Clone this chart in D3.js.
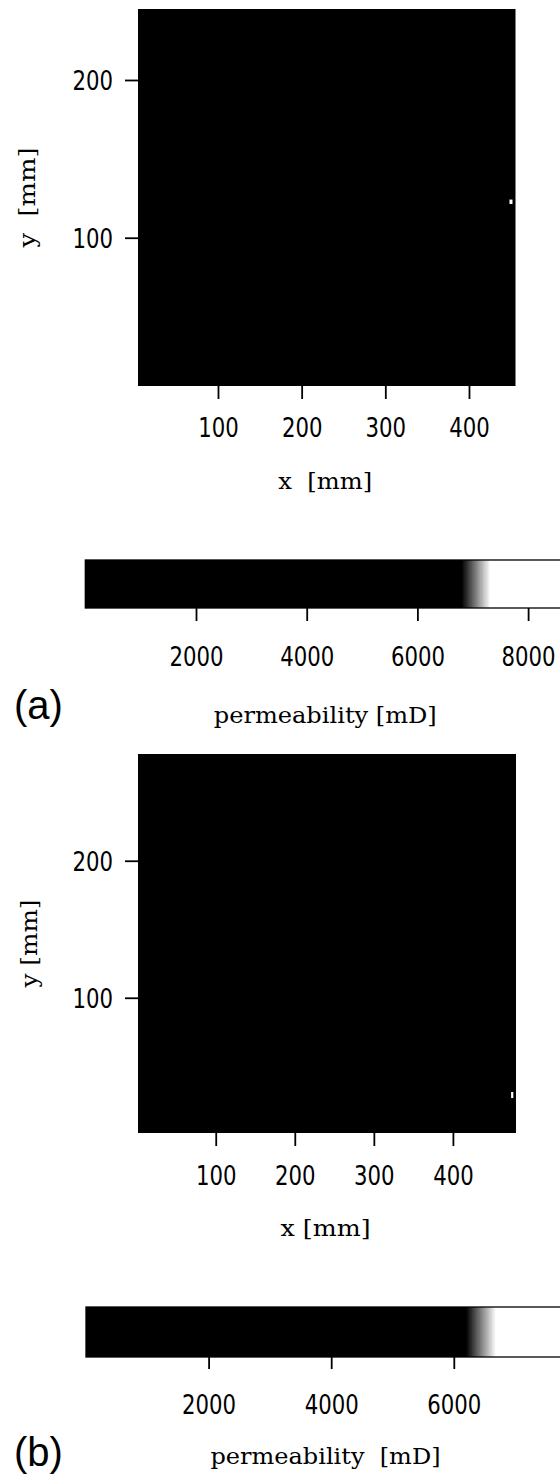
<!DOCTYPE html>
<html>
<head>
<meta charset="utf-8">
<script src="https://cdn.jsdelivr.net/npm/d3@7"></script>
<style>
  html, body { margin: 0; padding: 0; background: #fff; }
  svg { display: block; }
</style>
</head>
<body>
<svg id="fig" width="560" height="1475"></svg>
<script>
// Permeability maps of two samples, (a) and (b), each with its colour bar.

// ---- values -------------------------------------------------------------
const xTicks = [100, 200, 300, 400];          // x [mm]
const yTicks = [100, 200];                    // y [mm]
const cbTicksA = [2000, 4000, 6000, 8000];    // permeability [mD]
const cbTicksB = [2000, 4000, 6000];

// extent of each measured grid [mm]
const xExtentA = [4.4, 455.6];
const yExtentA = [6.0, 245.0];
const xExtentB = [1.7, 479.8];
const yExtentB = [1.3, 277.9];

// permeability cells [mD]: bulk matrix plus the high-permeability spot
const cellsA = [
  { x0: 4.4,   x1: 455.6, y0: 6.0,   y1: 245.0, k: 2500 },
  { x0: 448.4, x1: 452.0, y0: 121.4, y1: 124.2, k: 8500 }
];
const cellsB = [
  { x0: 1.7,   x1: 479.8, y0: 1.3,   y1: 277.9, k: 2500 },
  { x0: 473.6, x1: 476.4, y0: 26.8,  y1: 31.2,  k: 6900 }
];

// grey ramps: black up to the first stop, white from the second [mD]
const rampA = [6800, 7320];
const rampB = [6200, 6690];
const cbMaxA = 9000;
const cbMaxB = 8000;

// ---- layout -------------------------------------------------------------
const panels = [
  {
    tag: "(a)", tagBase: 719,
    cells: cellsA, xExtent: xExtentA, yExtent: yExtentA,
    plot: { l: 138, r: 515.5, t: 9, b: 386 },
    xTitle: "x\u00a0\u00a0[mm]", xTitleBase: 489, xTitleLen: 94,
    yTitle: "y\u00a0\u00a0[mm]", yTitleX: 35, yTitleLen: 100,
    xLabelBase: 437,
    ramp: rampA, cbMax: cbMaxA, cbTicks: cbTicksA,
    cb: { x0: 85.3, x2000: 196, t: 560, b: 608 }, cbTick: 13, cbLabelBase: 666,
    cbTitle: "permeability [mD]", cbTitleBase: 723, cbTitleLen: 223
  },
  {
    tag: "(b)", tagBase: 1466,
    cells: cellsB, xExtent: xExtentB, yExtent: yExtentB,
    plot: { l: 138, r: 516, t: 754, b: 1133 },
    xTitle: "x [mm]", xTitleBase: 1236, xTitleLen: 90,
    yTitle: "y [mm]", yTitleX: 37, yTitleLen: 88,
    xLabelBase: 1185,
    ramp: rampB, cbMax: cbMaxB, cbTicks: cbTicksB,
    cb: { x0: 86, x2000: 208.6, t: 1307, b: 1357 }, cbTick: 12, cbLabelBase: 1414,
    cbTitle: "permeability\u00a0\u00a0[mD]", cbTitleBase: 1464, cbTitleLen: 230
  }
];

const tickFont = "'DejaVu Sans Condensed', 'DejaVu Sans', sans-serif";
const serifFont = "'DejaVu Serif', 'Liberation Serif', serif";
const digitW = 13.5;
const tickLen = 13;

const svg = d3.select("#fig");

function styleTicks(g) {
  g.select(".domain").remove();
  g.selectAll(".tick line").attr("stroke", "#000").attr("stroke-width", 1.8);
  g.selectAll(".tick text")
    .attr("fill", "#000")
    .style("font-family", tickFont)
    .style("font-size", "27px")
    .attr("textLength", d => String(d).length * digitW)
    .attr("lengthAdjust", "spacingAndGlyphs");
}

panels.forEach(p => {
  const x = d3.scaleLinear().domain(p.xExtent).range([p.plot.l, p.plot.r]);
  const y = d3.scaleLinear().domain(p.yExtent).range([p.plot.b, p.plot.t]);
  const color = d3.scaleLinear()
    .domain([0, p.ramp[0], p.ramp[1]])
    .range(["#000", "#000", "#fff"])
    .clamp(true);

  // permeability field
  svg.append("g")
    .selectAll("rect")
    .data(p.cells)
    .join("rect")
    .attr("x", d => x(d.x0))
    .attr("y", d => y(d.y1))
    .attr("width", d => x(d.x1) - x(d.x0))
    .attr("height", d => y(d.y0) - y(d.y1))
    .attr("fill", d => color(d.k));

  // x axis
  const gx = svg.append("g")
    .attr("transform", `translate(0,${p.plot.b})`)
    .call(d3.axisBottom(x).tickValues(xTicks).tickSize(tickLen).tickFormat(d3.format("d")));
  styleTicks(gx);
  gx.selectAll(".tick text").attr("y", p.xLabelBase - p.plot.b).attr("dy", 0);

  // y axis
  const gy = svg.append("g")
    .attr("transform", `translate(${p.plot.l},0)`)
    .call(d3.axisLeft(y).tickValues(yTicks).tickSize(tickLen).tickFormat(d3.format("d")));
  styleTicks(gy);
  gy.selectAll(".tick text").attr("x", -25).attr("y", 10).attr("dy", 0);

  const midX = (p.plot.l + p.plot.r) / 2 - 1.5;
  const midY = (p.plot.t + p.plot.b) / 2;

  // axis titles
  svg.append("text")
    .attr("x", midX).attr("y", p.xTitleBase)
    .attr("text-anchor", "middle")
    .attr("textLength", p.xTitleLen).attr("lengthAdjust", "spacingAndGlyphs")
    .style("font-family", serifFont).style("font-size", "22px")
    .text(p.xTitle);

  svg.append("text")
    .attr("transform", `translate(${p.yTitleX},${midY}) rotate(-90)`)
    .attr("text-anchor", "middle")
    .attr("textLength", p.yTitleLen).attr("lengthAdjust", "spacingAndGlyphs")
    .style("font-family", serifFont).style("font-size", "22px")
    .text(p.yTitle);

  // colour bar
  const cbx = d3.scaleLinear()
    .domain([0, 2000])
    .range([p.cb.x0, p.cb.x2000]);
  const step = 10;
  const samples = d3.range(0, p.cbMax, step);
  const gcb = svg.append("g").attr("shape-rendering", "crispEdges");
  gcb.selectAll("rect")
    .data(samples)
    .join("rect")
    .attr("x", d => cbx(d))
    .attr("y", p.cb.t)
    .attr("width", cbx(step) - cbx(0) + 1)
    .attr("height", p.cb.b - p.cb.t)
    .attr("fill", d => color(d + step / 2));
  svg.append("rect")
    .attr("x", cbx(0)).attr("y", p.cb.t)
    .attr("width", cbx(p.cbMax) - cbx(0))
    .attr("height", p.cb.b - p.cb.t)
    .attr("fill", "none").attr("stroke", "#000").attr("stroke-width", 1.3);

  const gcbAxis = svg.append("g")
    .attr("transform", `translate(0,${p.cb.b})`)
    .call(d3.axisBottom(cbx).tickValues(p.cbTicks).tickSize(p.cbTick).tickFormat(d3.format("d")));
  styleTicks(gcbAxis);
  gcbAxis.selectAll(".tick text").attr("y", p.cbLabelBase - p.cb.b).attr("dy", 0);

  svg.append("text")
    .attr("x", midX).attr("y", p.cbTitleBase)
    .attr("text-anchor", "middle")
    .attr("textLength", p.cbTitleLen).attr("lengthAdjust", "spacingAndGlyphs")
    .style("font-family", serifFont).style("font-size", "22px")
    .text(p.cbTitle);

  // panel tag
  svg.append("text")
    .attr("x", 14).attr("y", p.tagBase)
    .style("font-family", "'Liberation Sans', Arial, sans-serif")
    .style("font-size", "40px")
    .text(p.tag);
});
</script>
</body>
</html>
